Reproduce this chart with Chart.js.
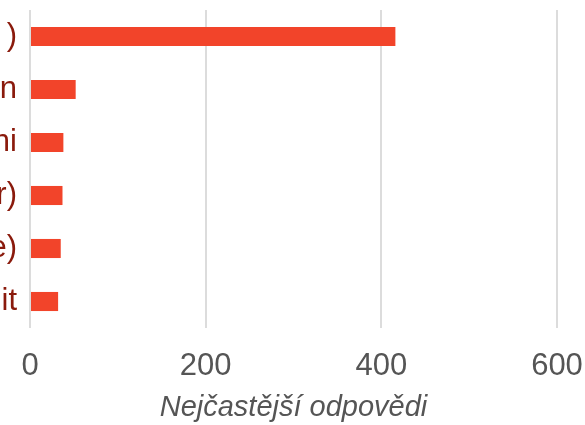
<!DOCTYPE html>
<html>
<head>
<meta charset="utf-8">
<script src="https://cdn.jsdelivr.net/npm/chart.js@4"></script>
<style>
  html, body { margin: 0; padding: 0; background: #fff; }
  #wrap { position: relative; width: 585px; height: 425px; }
</style>
</head>
<body>
<div id="wrap"><canvas id="c"></canvas></div>
<script>
// Category labels (only their right-hand ends are visible in the reference)
const categories = [")", "n", "ni", "r)", "e)", "it"];
const counts = [416, 52, 38, 37, 35, 32];
const xTicks = [0, 200, 400, 600];
const xTitle = "Nejčastější odpovědi";

new Chart(document.getElementById('c'), {
  type: 'bar',
  data: {
    labels: categories,
    datasets: [{
      data: counts,
      backgroundColor: '#f2442a',
      borderWidth: 0,
      categoryPercentage: 1,
      barPercentage: 0.36
    }]
  },
  options: {
    indexAxis: 'y',
    responsive: true,
    maintainAspectRatio: false,
    animation: false,
    layout: { padding: { top: 10, bottom: 0, right: 0, left: 0 } },
    plugins: { legend: { display: false }, tooltip: { enabled: false } },
    scales: {
      x: {
        min: 0, max: 600,
        afterBuildTicks: (s) => { s.ticks = xTicks.map(v => ({ value: v })); },
        afterFit: (s) => { s.paddingLeft = 0; s.paddingRight = 28; s.height = 97; },
        grid: { color: '#dcdcdc', lineWidth: 2, drawTicks: false },
        border: { display: false },
        ticks: { color: '#555', font: { family: 'Liberation Sans', size: 31 }, padding: 20 },
        title: { display: true, text: xTitle, color: '#555', padding: { top: 5, bottom: 0 },
                 font: { family: 'Liberation Sans', size: 29, style: 'italic' } }
      },
      y: {
        afterFit: (s) => { s.width = 30; s.paddingTop = 0; s.paddingBottom = 0; },
        grid: { display: false, drawTicks: false },
        border: { display: false },
        ticks: { color: '#8a1a0c', font: { family: 'Liberation Sans', size: 31 }, padding: 13 }
      }
    }
  }
});
</script>
</body>
</html>
